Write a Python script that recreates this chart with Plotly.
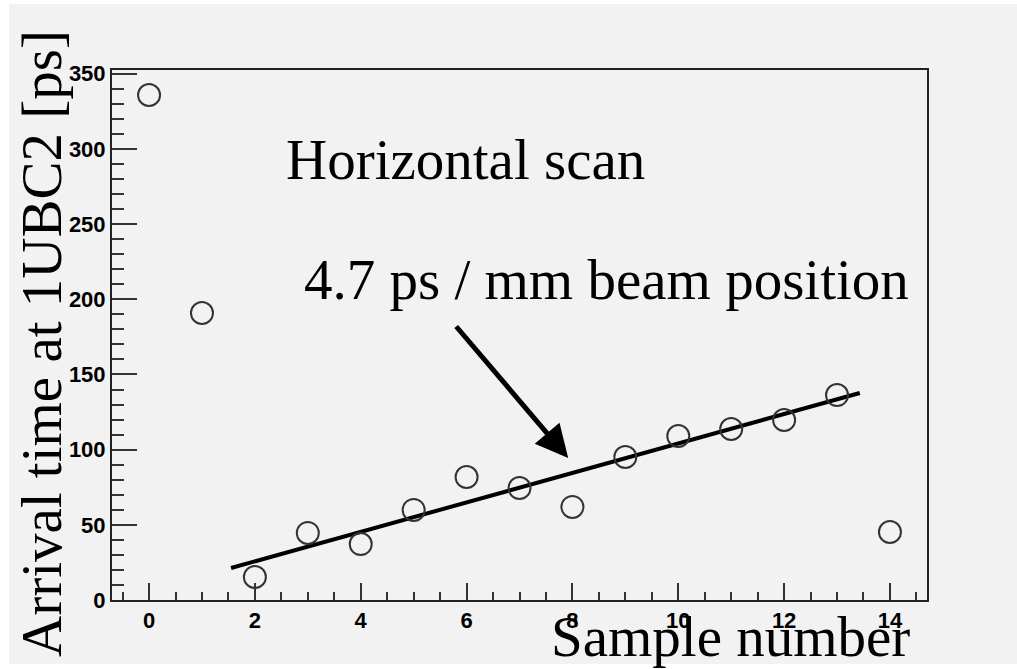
import plotly.graph_objects as go

# data
sample = [0, 1, 2, 3, 4, 5, 6, 7, 8, 9, 10, 11, 12, 13, 14]
arrival_ps = [335.9, 190.9, 15.3, 44.6, 37.2, 59.9, 81.8, 74.5, 61.9, 95.1,
              109.1, 113.7, 119.7, 136.3, 45.2]
fit_x = [1.55, 13.43]
fit_y = [21.3, 137.7]

x_range = [-0.7, 14.7]
y_range = [0, 352.5]

# layout in pixels
W, H = 1017, 669
L, R, T, B = 112, 90, 70, 69
PW, PH = W - L - R, H - T - B


def px(xp):
    return (xp - L) / PW


def py(yp):
    return (H - B - yp) / PH


serif = "Liberation Serif, Times New Roman, serif"
sans = "Liberation Sans, Arial, sans-serif"

fig = go.Figure()
fig.add_trace(go.Scatter(
    x=fit_x, y=fit_y, mode="lines",
    line=dict(color="black", width=4), hoverinfo="skip", showlegend=False))
fig.add_trace(go.Scatter(
    x=sample, y=arrival_ps, mode="markers",
    marker=dict(symbol="circle-open", size=22, color="#333333",
                line=dict(width=2, color="#333333")),
    showlegend=False))

# gray canvas
fig.add_shape(type="rect", xref="paper", yref="paper",
              x0=px(9), x1=px(W + 5), y0=py(664), y1=py(4),
              fillcolor="#f2f2f2", line=dict(width=0), layer="below")

axis_common = dict(showline=True, linecolor="#222222", linewidth=2, mirror=True,
                   showgrid=False, zeroline=False, ticks="inside",
                   tickcolor="#333333", tickwidth=2,
                   tickfont=dict(family=sans, size=22, color="black", weight="bold"))

fig.update_xaxes(range=x_range, tick0=0, dtick=2, ticklen=17,
                 minor=dict(ticks="inside", dtick=0.5, tick0=0, ticklen=8,
                            tickcolor="#333333", tickwidth=2, showgrid=False),
                 **axis_common)
fig.update_yaxes(range=y_range, tick0=0, dtick=50, ticklen=25,
                 minor=dict(ticks="inside", dtick=10, tick0=0, ticklen=12,
                            tickcolor="#333333", tickwidth=2, showgrid=False),
                 **axis_common)

annos = [
    dict(text="Horizontal scan", x=px(465), y=py(159), xanchor="center", yanchor="middle"),
    dict(text="4.7 ps / mm beam position", x=px(606), y=py(279), xanchor="center", yanchor="middle"),
    dict(text="Sample number", x=px(912), y=py(636), xanchor="right", yanchor="middle"),
    dict(text="Arrival time at 1UBC2 [ps]", x=px(41), y=py(344), xanchor="center",
         yanchor="middle", textangle=-90),
]
for a in annos:
    fig.add_annotation(xref="paper", yref="paper", showarrow=False,
                       font=dict(family=serif, size=57, color="black"), **a)

# arrow
fig.add_annotation(x=7.92, y=94.4, ax=5.78, ay=182.9, xref="x", yref="y",
                   axref="x", ayref="y", text="", showarrow=True,
                   arrowhead=2, arrowsize=1.3, arrowwidth=5, arrowcolor="black")

fig.update_layout(width=W, height=H, margin=dict(l=L, r=R, t=T, b=B),
                  paper_bgcolor="white", plot_bgcolor="rgba(0,0,0,0)",
                  showlegend=False)

fig.write_html("out.html")
